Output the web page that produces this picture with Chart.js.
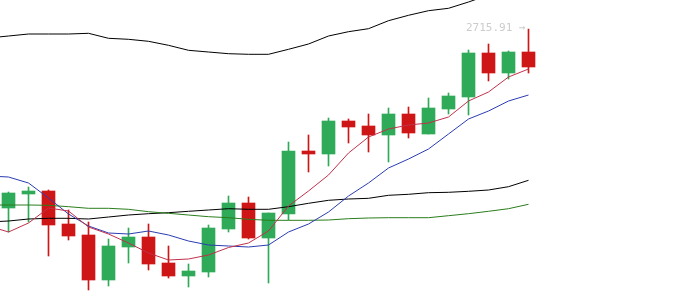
<!DOCTYPE html>
<html>
<head>
<meta charset="utf-8">
<script src="https://cdn.jsdelivr.net/npm/chart.js@4"></script>
<style>
  html, body { margin: 0; padding: 0; background: #fff; }
  #wrap { width: 689px; height: 305px; }
</style>
</head>
<body>
<div id="wrap"><canvas id="chart"></canvas></div>
<script>
// candle data (index 0..26)
const opens  = [2537, 2551, 2554, 2521, 2510, 2465, 2498, 2508, 2482, 2469, 2473, 2516, 2542, 2507, 2531, 2594, 2591, 2624, 2619, 2610, 2631, 2611, 2636, 2648, 2692, 2672, 2693];
const closes = [2552, 2554, 2520, 2509, 2465, 2499, 2508, 2481, 2469, 2474, 2517, 2542, 2507, 2532, 2594, 2591, 2624, 2618, 2610, 2631, 2612, 2637, 2649, 2692, 2672, 2693, 2678];
const highs  = [2553, 2558, 2555, 2535, 2523, 2506, 2517, 2521, 2499, 2481, 2520, 2549, 2548, 2532, 2603, 2610, 2627, 2626, 2631, 2637, 2638, 2647, 2652, 2695, 2701, 2694, 2715.91];
const lows   = [2513, 2523, 2489, 2505, 2455, 2459, 2482, 2475, 2467, 2458, 2468, 2513, 2506, 2462, 2525, 2573, 2579, 2602, 2593, 2583, 2607, 2611, 2631, 2630, 2664, 2666, 2672];

// moving averages, index -1..26
const maIndex = [-1, 0, 1, 2, 3, 4, 5, 6, 7, 8, 9, 10, 11, 12, 13, 14, 15, 16, 17, 18, 19, 20, 21, 22, 23, 24, 25, 26];
const ma5   = [2519, 2513, 2522, 2537, 2534, 2518, 2511, 2502, 2492, 2485, 2486, 2490, 2497.5, 2502, 2514, 2539, 2554, 2570, 2592, 2608, 2616, 2620, 2622, 2628, 2644, 2653, 2668, 2676];
const ma10  = [2569, 2568, 2562, 2547, 2531, 2519, 2512, 2511, 2514, 2510, 2504, 2500, 2499, 2498, 2500, 2513, 2521, 2533, 2549, 2562, 2577, 2586, 2596, 2611, 2626, 2634, 2644, 2650];
const ma20  = [2540, 2540, 2540, 2539.7, 2538.3, 2536.7, 2536.7, 2535.7, 2533.3, 2531.7, 2530, 2528.3, 2527.3, 2525.7, 2524.7, 2524.7, 2524.7, 2525, 2526.3, 2527, 2527.3, 2527.3, 2527.3, 2529.3, 2531.3, 2533.7, 2536.3, 2540.7];
const ma30  = [2523, 2524, 2526, 2526.7, 2526.7, 2526, 2528, 2530, 2531.3, 2532.3, 2533.7, 2535, 2536.3, 2535.7, 2535.7, 2538.3, 2541.7, 2544.7, 2546, 2546.7, 2549.7, 2550.7, 2552.3, 2552.7, 2553.7, 2555, 2558.3, 2564.7];
const ma60  = [2707, 2709, 2711, 2711, 2711, 2711.7, 2706.7, 2705.7, 2703.7, 2699.7, 2694.7, 2693, 2691.3, 2690.7, 2690.7, 2695.7, 2701, 2709, 2713.3, 2716.3, 2724.3, 2729.7, 2734.3, 2736.7, 2743, 2750, 2756, 2761];

const lastLabel = '2715.91 →';

const UP = '#2eaa58';
const DOWN = '#cf1616';

const candleColors = opens.map((o, i) => (closes[i] >= o ? UP : DOWN));
const bodies = opens.map((o, i) => ({ x: i, y: [o, closes[i]] }));
const wicks = lows.map((l, i) => ({ x: i, y: [l, highs[i]] }));

const toPoints = (values) => values.map((v, i) => ({ x: maIndex[i], y: v }));

const lineStyle = (color) => ({
  type: 'line',
  borderColor: color,
  borderWidth: 1,
  pointRadius: 0,
  fill: false,
  tension: 0,
  order: 0,
});

// last-price label pointing at the final high
const lastPricePlugin = {
  id: 'lastPrice',
  afterDatasetsDraw(chart) {
    const { ctx, scales } = chart;
    const last = highs.length - 1;
    const x = scales.x.getPixelForValue(last) - 3;
    const y = scales.y.getPixelForValue(highs[last]) - 1;
    ctx.save();
    ctx.font = '11px "DejaVu Sans Mono", monospace';
    ctx.fillStyle = '#cccccc';
    ctx.textAlign = 'right';
    ctx.textBaseline = 'middle';
    ctx.fillText(lastLabel, x, y);
    ctx.restore();
  },
};

new Chart(document.getElementById('chart'), {
  type: 'bar',
  data: {
    datasets: [
      { ...lineStyle('#c1304b'), data: toPoints(ma5) },
      { ...lineStyle('#2b3cb2'), data: toPoints(ma10) },
      { ...lineStyle('#2a7d1c'), data: toPoints(ma20) },
      { ...lineStyle('#000000'), data: toPoints(ma30) },
      { ...lineStyle('#000000'), data: toPoints(ma60) },
      {
        type: 'bar',
        data: bodies,
        backgroundColor: candleColors,
        barThickness: 13,
        grouped: false,
        borderWidth: 0,
        order: 1,
      },
      {
        type: 'bar',
        data: wicks,
        backgroundColor: candleColors,
        barThickness: 1,
        grouped: false,
        borderWidth: 0,
        order: 2,
      },
    ],
  },
  options: {
    responsive: true,
    maintainAspectRatio: false,
    animation: false,
    layout: { padding: 0 },
    plugins: {
      legend: { display: false },
      tooltip: { enabled: false },
    },
    scales: {
      x: {
        type: 'linear',
        display: false,
        min: -0.425,
        max: 34.025,
        offset: false,
      },
      y: {
        display: false,
        min: 2440,
        max: 2745,
      },
    },
  },
  plugins: [lastPricePlugin],
});
</script>
</body>
</html>
